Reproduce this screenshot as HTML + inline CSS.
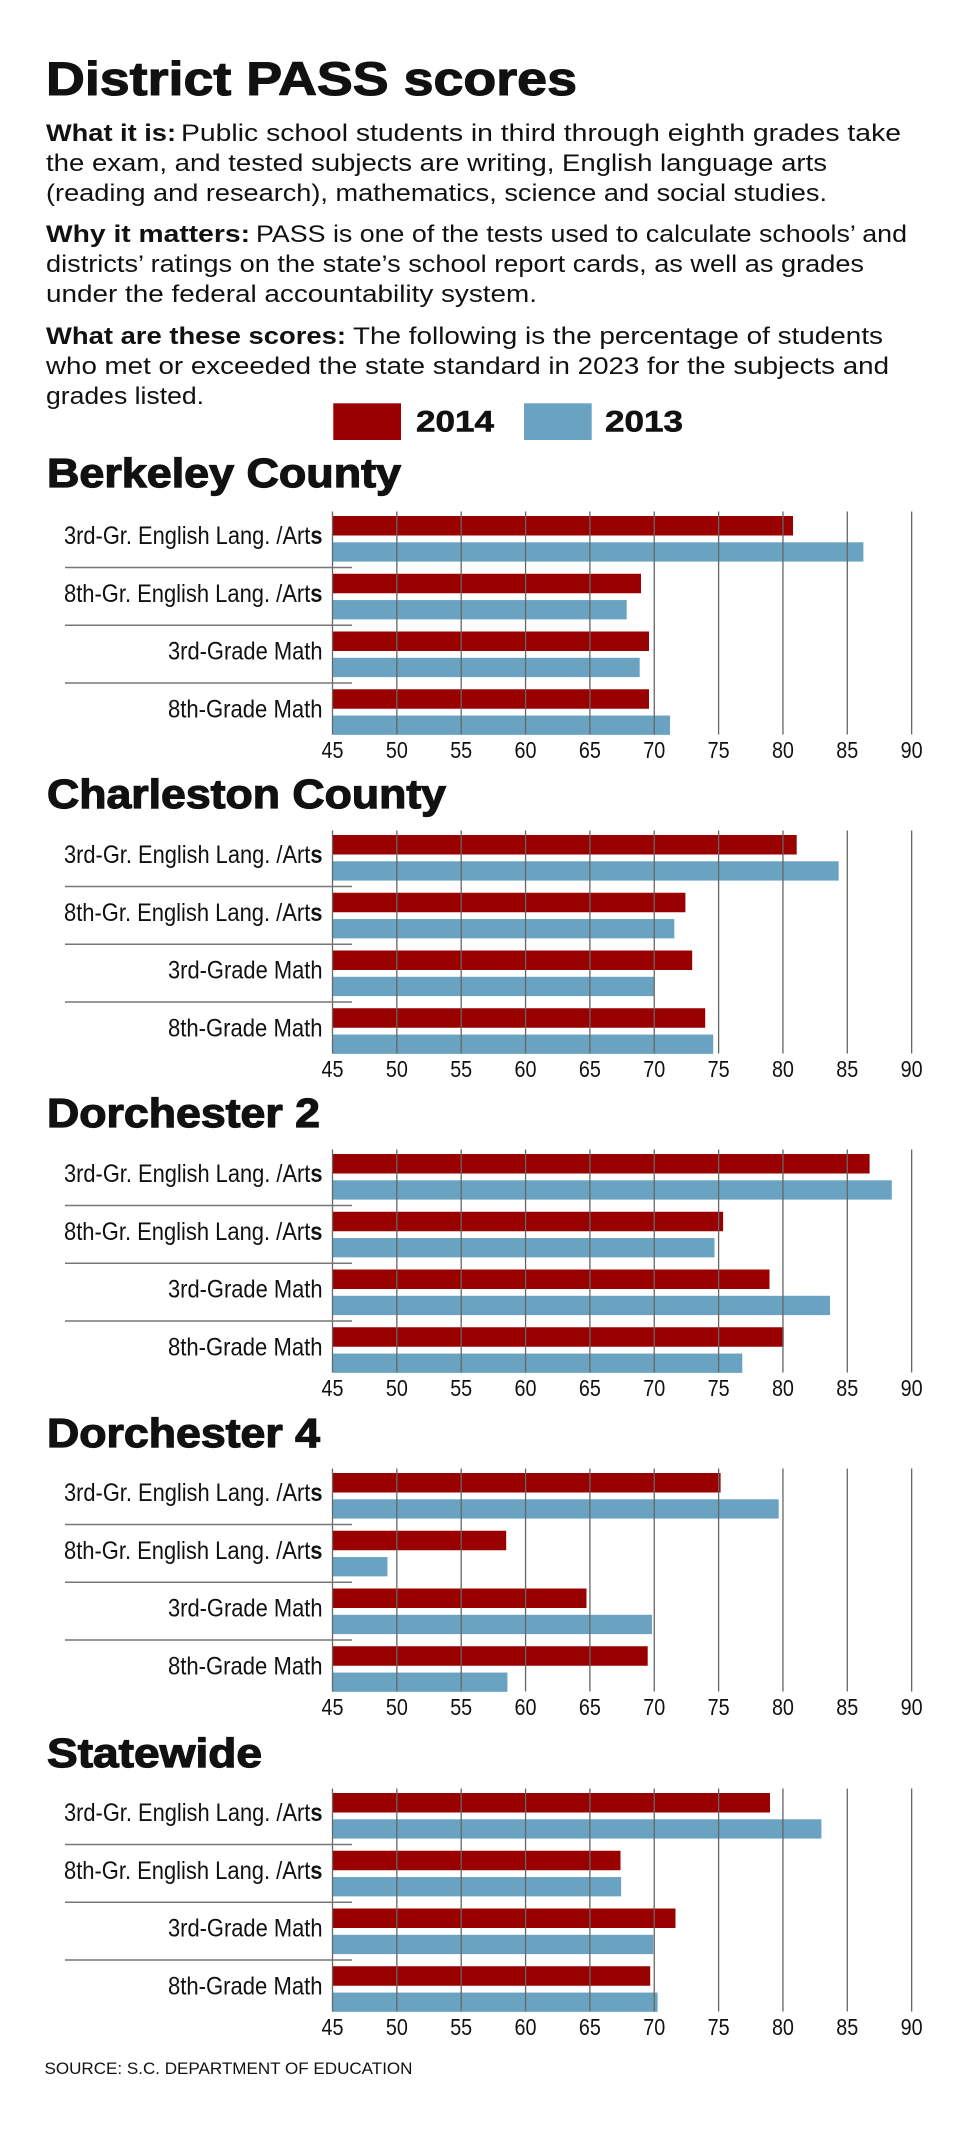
<!DOCTYPE html>
<html><head><meta charset="utf-8"><style>
html,body{margin:0;padding:0;background:#fff;}
svg{display:block;}
text{font-family:"Liberation Sans",sans-serif;fill:#111;}
.b{font-weight:bold;}
.hv{stroke:#111;stroke-width:1.1;paint-order:stroke;}
.body{font-size:24px;}
.ttl{font-size:41px;font-weight:bold;stroke:#111;stroke-width:1.2;}
.lab{font-size:25px;}
.tk{font-size:23px;}
.r{fill:#990000;}
.bl{fill:#69a3c1;}
.gl{stroke:#666;stroke-width:1.3;}
.sp{stroke:#777;stroke-width:1.6;}
</style></head><body>
<svg width="969" height="2138" viewBox="0 0 969 2138" xmlns="http://www.w3.org/2000/svg">
<rect width="969" height="2138" fill="#fff"/>
<text x="46" y="95" font-size="47" class="b hv" textLength="531" lengthAdjust="spacingAndGlyphs">District PASS scores</text>

<text class="body b" x="46" y="141" textLength="130" lengthAdjust="spacingAndGlyphs">What it is:</text>
<text class="body" x="181" y="141" textLength="720" lengthAdjust="spacingAndGlyphs">Public school students in third through eighth grades take</text>
<text class="body" x="46" y="171" textLength="781" lengthAdjust="spacingAndGlyphs">the exam, and tested subjects are writing, English language arts</text>
<text class="body" x="46" y="201" textLength="781" lengthAdjust="spacingAndGlyphs">(reading and research), mathematics, science and social studies.</text>
<text class="body b" x="46" y="242" textLength="204" lengthAdjust="spacingAndGlyphs">Why it matters:</text>
<text class="body" x="256" y="242" textLength="651" lengthAdjust="spacingAndGlyphs">PASS is one of the tests used to calculate schools’ and</text>
<text class="body" x="46" y="272" textLength="818" lengthAdjust="spacingAndGlyphs">districts’ ratings on the state’s school report cards, as well as grades</text>
<text class="body" x="46" y="302" textLength="491" lengthAdjust="spacingAndGlyphs">under the federal accountability system.</text>
<text class="body b" x="46" y="344" textLength="300" lengthAdjust="spacingAndGlyphs">What are these scores:</text>
<text class="body" x="353" y="344" textLength="530" lengthAdjust="spacingAndGlyphs">The following is the percentage of students</text>
<text class="body" x="46" y="374" textLength="843" lengthAdjust="spacingAndGlyphs">who met or exceeded the state standard in 2023 for the subjects and</text>
<text class="body" x="46" y="404" textLength="158" lengthAdjust="spacingAndGlyphs">grades listed.</text>

<rect x="333.3" y="403.3" width="67.7" height="36.7" class="r"/>
<text x="416" y="431.5" font-size="30" class="b" stroke="#111" stroke-width="0.6" textLength="78" lengthAdjust="spacingAndGlyphs">2014</text>
<rect x="524" y="403.3" width="67.7" height="36.7" class="bl"/>
<text x="605" y="431.5" font-size="30" class="b" stroke="#111" stroke-width="0.6" textLength="78" lengthAdjust="spacingAndGlyphs">2013</text>

<!-- Berkeley -->
<text class="ttl" x="47" y="487" textLength="354" lengthAdjust="spacingAndGlyphs">Berkeley County</text>
<g transform="translate(0,516)">
<rect class="r" x="332.5" y="0" width="460.5" height="19.5"/>
<rect class="bl" x="332.5" y="26.3" width="530.9" height="19.3"/>
<rect class="r" x="332.5" y="57.75" width="308.5" height="19.5"/>
<rect class="bl" x="332.5" y="84.05" width="294.2" height="19.3"/>
<rect class="r" x="332.5" y="115.5" width="316.5" height="19.5"/>
<rect class="bl" x="332.5" y="141.8" width="307.2" height="19.3"/>
<rect class="r" x="332.5" y="173.25" width="316.5" height="19.5"/>
<rect class="bl" x="332.5" y="199.55" width="337.5" height="19.3"/>
<g class="gl"><line x1="332.5" y1="-4.5" x2="332.5" y2="218.5"/><line x1="396.85" y1="-4.5" x2="396.85" y2="218.5"/><line x1="461.2" y1="-4.5" x2="461.2" y2="218.5"/><line x1="525.55" y1="-4.5" x2="525.55" y2="218.5"/><line x1="589.9" y1="-4.5" x2="589.9" y2="218.5"/><line x1="654.25" y1="-4.5" x2="654.25" y2="218.5"/><line x1="718.6" y1="-4.5" x2="718.6" y2="218.5"/><line x1="782.95" y1="-4.5" x2="782.95" y2="218.5"/><line x1="847.3" y1="-4.5" x2="847.3" y2="218.5"/><line x1="911.65" y1="-4.5" x2="911.65" y2="218.5"/></g>
<g class="sp"><line x1="65" y1="51.5" x2="352" y2="51.5"/><line x1="65" y1="109.25" x2="352" y2="109.25"/><line x1="65" y1="167" x2="352" y2="167"/></g>
<text class="lab" x="64" y="28" textLength="258.5" lengthAdjust="spacingAndGlyphs">3rd-Gr. English Lang. /Art<tspan class="b">s</tspan></text>
<text class="lab" x="64" y="85.75" textLength="258.5" lengthAdjust="spacingAndGlyphs">8th-Gr. English Lang. /Art<tspan class="b">s</tspan></text>
<text class="lab" x="168" y="143.5" textLength="154.5" lengthAdjust="spacingAndGlyphs">3rd-Grade Math</text>
<text class="lab" x="168" y="201.25" textLength="154.5" lengthAdjust="spacingAndGlyphs">8th-Grade Math</text>
<g class="tk"><text x="321.5" y="242" textLength="22" lengthAdjust="spacingAndGlyphs">45</text><text x="385.85" y="242" textLength="22" lengthAdjust="spacingAndGlyphs">50</text><text x="450.2" y="242" textLength="22" lengthAdjust="spacingAndGlyphs">55</text><text x="514.55" y="242" textLength="22" lengthAdjust="spacingAndGlyphs">60</text><text x="578.9" y="242" textLength="22" lengthAdjust="spacingAndGlyphs">65</text><text x="643.25" y="242" textLength="22" lengthAdjust="spacingAndGlyphs">70</text><text x="707.6" y="242" textLength="22" lengthAdjust="spacingAndGlyphs">75</text><text x="771.95" y="242" textLength="22" lengthAdjust="spacingAndGlyphs">80</text><text x="836.3" y="242" textLength="22" lengthAdjust="spacingAndGlyphs">85</text><text x="900.65" y="242" textLength="22" lengthAdjust="spacingAndGlyphs">90</text></g>
</g>

<!-- Charleston -->
<text class="ttl" x="47" y="808" textLength="399" lengthAdjust="spacingAndGlyphs">Charleston County</text>
<g transform="translate(0,835)">
<rect class="r" x="332.5" y="0" width="464.2" height="19.5"/>
<rect class="bl" x="332.5" y="26.3" width="506.2" height="19.3"/>
<rect class="r" x="332.5" y="57.75" width="352.9" height="19.5"/>
<rect class="bl" x="332.5" y="84.05" width="341.8" height="19.3"/>
<rect class="r" x="332.5" y="115.5" width="359.7" height="19.5"/>
<rect class="bl" x="332.5" y="141.8" width="322" height="19.3"/>
<rect class="r" x="332.5" y="173.25" width="372.7" height="19.5"/>
<rect class="bl" x="332.5" y="199.55" width="380.7" height="19.3"/>
<g class="gl"><line x1="332.5" y1="-4.5" x2="332.5" y2="218.5"/><line x1="396.85" y1="-4.5" x2="396.85" y2="218.5"/><line x1="461.2" y1="-4.5" x2="461.2" y2="218.5"/><line x1="525.55" y1="-4.5" x2="525.55" y2="218.5"/><line x1="589.9" y1="-4.5" x2="589.9" y2="218.5"/><line x1="654.25" y1="-4.5" x2="654.25" y2="218.5"/><line x1="718.6" y1="-4.5" x2="718.6" y2="218.5"/><line x1="782.95" y1="-4.5" x2="782.95" y2="218.5"/><line x1="847.3" y1="-4.5" x2="847.3" y2="218.5"/><line x1="911.65" y1="-4.5" x2="911.65" y2="218.5"/></g>
<g class="sp"><line x1="65" y1="51.5" x2="352" y2="51.5"/><line x1="65" y1="109.25" x2="352" y2="109.25"/><line x1="65" y1="167" x2="352" y2="167"/></g>
<text class="lab" x="64" y="28" textLength="258.5" lengthAdjust="spacingAndGlyphs">3rd-Gr. English Lang. /Art<tspan class="b">s</tspan></text>
<text class="lab" x="64" y="85.75" textLength="258.5" lengthAdjust="spacingAndGlyphs">8th-Gr. English Lang. /Art<tspan class="b">s</tspan></text>
<text class="lab" x="168" y="143.5" textLength="154.5" lengthAdjust="spacingAndGlyphs">3rd-Grade Math</text>
<text class="lab" x="168" y="201.25" textLength="154.5" lengthAdjust="spacingAndGlyphs">8th-Grade Math</text>
<g class="tk"><text x="321.5" y="242" textLength="22" lengthAdjust="spacingAndGlyphs">45</text><text x="385.85" y="242" textLength="22" lengthAdjust="spacingAndGlyphs">50</text><text x="450.2" y="242" textLength="22" lengthAdjust="spacingAndGlyphs">55</text><text x="514.55" y="242" textLength="22" lengthAdjust="spacingAndGlyphs">60</text><text x="578.9" y="242" textLength="22" lengthAdjust="spacingAndGlyphs">65</text><text x="643.25" y="242" textLength="22" lengthAdjust="spacingAndGlyphs">70</text><text x="707.6" y="242" textLength="22" lengthAdjust="spacingAndGlyphs">75</text><text x="771.95" y="242" textLength="22" lengthAdjust="spacingAndGlyphs">80</text><text x="836.3" y="242" textLength="22" lengthAdjust="spacingAndGlyphs">85</text><text x="900.65" y="242" textLength="22" lengthAdjust="spacingAndGlyphs">90</text></g>
</g>

<!-- Dorchester 2 -->
<text class="ttl" x="47" y="1127" textLength="273" lengthAdjust="spacingAndGlyphs">Dorchester 2</text>
<g transform="translate(0,1154)">
<rect class="r" x="332.5" y="0" width="537.1" height="19.5"/>
<rect class="bl" x="332.5" y="26.3" width="559.3" height="19.3"/>
<rect class="r" x="332.5" y="57.75" width="390.6" height="19.5"/>
<rect class="bl" x="332.5" y="84.05" width="382" height="19.3"/>
<rect class="r" x="332.5" y="115.5" width="437" height="19.5"/>
<rect class="bl" x="332.5" y="141.8" width="497.5" height="19.3"/>
<rect class="r" x="332.5" y="173.25" width="451.2" height="19.5"/>
<rect class="bl" x="332.5" y="199.55" width="409.8" height="19.3"/>
<g class="gl"><line x1="332.5" y1="-4.5" x2="332.5" y2="218.5"/><line x1="396.85" y1="-4.5" x2="396.85" y2="218.5"/><line x1="461.2" y1="-4.5" x2="461.2" y2="218.5"/><line x1="525.55" y1="-4.5" x2="525.55" y2="218.5"/><line x1="589.9" y1="-4.5" x2="589.9" y2="218.5"/><line x1="654.25" y1="-4.5" x2="654.25" y2="218.5"/><line x1="718.6" y1="-4.5" x2="718.6" y2="218.5"/><line x1="782.95" y1="-4.5" x2="782.95" y2="218.5"/><line x1="847.3" y1="-4.5" x2="847.3" y2="218.5"/><line x1="911.65" y1="-4.5" x2="911.65" y2="218.5"/></g>
<g class="sp"><line x1="65" y1="51.5" x2="352" y2="51.5"/><line x1="65" y1="109.25" x2="352" y2="109.25"/><line x1="65" y1="167" x2="352" y2="167"/></g>
<text class="lab" x="64" y="28" textLength="258.5" lengthAdjust="spacingAndGlyphs">3rd-Gr. English Lang. /Art<tspan class="b">s</tspan></text>
<text class="lab" x="64" y="85.75" textLength="258.5" lengthAdjust="spacingAndGlyphs">8th-Gr. English Lang. /Art<tspan class="b">s</tspan></text>
<text class="lab" x="168" y="143.5" textLength="154.5" lengthAdjust="spacingAndGlyphs">3rd-Grade Math</text>
<text class="lab" x="168" y="201.25" textLength="154.5" lengthAdjust="spacingAndGlyphs">8th-Grade Math</text>
<g class="tk"><text x="321.5" y="242" textLength="22" lengthAdjust="spacingAndGlyphs">45</text><text x="385.85" y="242" textLength="22" lengthAdjust="spacingAndGlyphs">50</text><text x="450.2" y="242" textLength="22" lengthAdjust="spacingAndGlyphs">55</text><text x="514.55" y="242" textLength="22" lengthAdjust="spacingAndGlyphs">60</text><text x="578.9" y="242" textLength="22" lengthAdjust="spacingAndGlyphs">65</text><text x="643.25" y="242" textLength="22" lengthAdjust="spacingAndGlyphs">70</text><text x="707.6" y="242" textLength="22" lengthAdjust="spacingAndGlyphs">75</text><text x="771.95" y="242" textLength="22" lengthAdjust="spacingAndGlyphs">80</text><text x="836.3" y="242" textLength="22" lengthAdjust="spacingAndGlyphs">85</text><text x="900.65" y="242" textLength="22" lengthAdjust="spacingAndGlyphs">90</text></g>
</g>

<!-- Dorchester 4 -->
<text class="ttl" x="47" y="1447" textLength="273" lengthAdjust="spacingAndGlyphs">Dorchester 4</text>
<g transform="translate(0,1473)">
<rect class="r" x="332.5" y="0" width="388.1" height="19.5"/>
<rect class="bl" x="332.5" y="26.3" width="446.2" height="19.3"/>
<rect class="r" x="332.5" y="57.75" width="173.7" height="19.5"/>
<rect class="bl" x="332.5" y="84.05" width="55" height="19.3"/>
<rect class="r" x="332.5" y="115.5" width="254" height="19.5"/>
<rect class="bl" x="332.5" y="141.8" width="319.5" height="19.3"/>
<rect class="r" x="332.5" y="173.25" width="315.2" height="19.5"/>
<rect class="bl" x="332.5" y="199.55" width="174.9" height="19.3"/>
<g class="gl"><line x1="332.5" y1="-4.5" x2="332.5" y2="218.5"/><line x1="396.85" y1="-4.5" x2="396.85" y2="218.5"/><line x1="461.2" y1="-4.5" x2="461.2" y2="218.5"/><line x1="525.55" y1="-4.5" x2="525.55" y2="218.5"/><line x1="589.9" y1="-4.5" x2="589.9" y2="218.5"/><line x1="654.25" y1="-4.5" x2="654.25" y2="218.5"/><line x1="718.6" y1="-4.5" x2="718.6" y2="218.5"/><line x1="782.95" y1="-4.5" x2="782.95" y2="218.5"/><line x1="847.3" y1="-4.5" x2="847.3" y2="218.5"/><line x1="911.65" y1="-4.5" x2="911.65" y2="218.5"/></g>
<g class="sp"><line x1="65" y1="51.5" x2="352" y2="51.5"/><line x1="65" y1="109.25" x2="352" y2="109.25"/><line x1="65" y1="167" x2="352" y2="167"/></g>
<text class="lab" x="64" y="28" textLength="258.5" lengthAdjust="spacingAndGlyphs">3rd-Gr. English Lang. /Art<tspan class="b">s</tspan></text>
<text class="lab" x="64" y="85.75" textLength="258.5" lengthAdjust="spacingAndGlyphs">8th-Gr. English Lang. /Art<tspan class="b">s</tspan></text>
<text class="lab" x="168" y="143.5" textLength="154.5" lengthAdjust="spacingAndGlyphs">3rd-Grade Math</text>
<text class="lab" x="168" y="201.25" textLength="154.5" lengthAdjust="spacingAndGlyphs">8th-Grade Math</text>
<g class="tk"><text x="321.5" y="242" textLength="22" lengthAdjust="spacingAndGlyphs">45</text><text x="385.85" y="242" textLength="22" lengthAdjust="spacingAndGlyphs">50</text><text x="450.2" y="242" textLength="22" lengthAdjust="spacingAndGlyphs">55</text><text x="514.55" y="242" textLength="22" lengthAdjust="spacingAndGlyphs">60</text><text x="578.9" y="242" textLength="22" lengthAdjust="spacingAndGlyphs">65</text><text x="643.25" y="242" textLength="22" lengthAdjust="spacingAndGlyphs">70</text><text x="707.6" y="242" textLength="22" lengthAdjust="spacingAndGlyphs">75</text><text x="771.95" y="242" textLength="22" lengthAdjust="spacingAndGlyphs">80</text><text x="836.3" y="242" textLength="22" lengthAdjust="spacingAndGlyphs">85</text><text x="900.65" y="242" textLength="22" lengthAdjust="spacingAndGlyphs">90</text></g>
</g>

<!-- Statewide -->
<text class="ttl" x="47" y="1767" textLength="215" lengthAdjust="spacingAndGlyphs">Statewide</text>
<g transform="translate(0,1793)">
<rect class="r" x="332.5" y="0" width="437.5" height="19.5"/>
<rect class="bl" x="332.5" y="26.3" width="488.9" height="19.3"/>
<rect class="r" x="332.5" y="57.75" width="288" height="19.5"/>
<rect class="bl" x="332.5" y="84.05" width="288.6" height="19.3"/>
<rect class="r" x="332.5" y="115.5" width="343" height="19.5"/>
<rect class="bl" x="332.5" y="141.8" width="320.8" height="19.3"/>
<rect class="r" x="332.5" y="173.25" width="317.7" height="19.5"/>
<rect class="bl" x="332.5" y="199.55" width="325.1" height="19.3"/>
<g class="gl"><line x1="332.5" y1="-4.5" x2="332.5" y2="218.5"/><line x1="396.85" y1="-4.5" x2="396.85" y2="218.5"/><line x1="461.2" y1="-4.5" x2="461.2" y2="218.5"/><line x1="525.55" y1="-4.5" x2="525.55" y2="218.5"/><line x1="589.9" y1="-4.5" x2="589.9" y2="218.5"/><line x1="654.25" y1="-4.5" x2="654.25" y2="218.5"/><line x1="718.6" y1="-4.5" x2="718.6" y2="218.5"/><line x1="782.95" y1="-4.5" x2="782.95" y2="218.5"/><line x1="847.3" y1="-4.5" x2="847.3" y2="218.5"/><line x1="911.65" y1="-4.5" x2="911.65" y2="218.5"/></g>
<g class="sp"><line x1="65" y1="51.5" x2="352" y2="51.5"/><line x1="65" y1="109.25" x2="352" y2="109.25"/><line x1="65" y1="167" x2="352" y2="167"/></g>
<text class="lab" x="64" y="28" textLength="258.5" lengthAdjust="spacingAndGlyphs">3rd-Gr. English Lang. /Art<tspan class="b">s</tspan></text>
<text class="lab" x="64" y="85.75" textLength="258.5" lengthAdjust="spacingAndGlyphs">8th-Gr. English Lang. /Art<tspan class="b">s</tspan></text>
<text class="lab" x="168" y="143.5" textLength="154.5" lengthAdjust="spacingAndGlyphs">3rd-Grade Math</text>
<text class="lab" x="168" y="201.25" textLength="154.5" lengthAdjust="spacingAndGlyphs">8th-Grade Math</text>
<g class="tk"><text x="321.5" y="242" textLength="22" lengthAdjust="spacingAndGlyphs">45</text><text x="385.85" y="242" textLength="22" lengthAdjust="spacingAndGlyphs">50</text><text x="450.2" y="242" textLength="22" lengthAdjust="spacingAndGlyphs">55</text><text x="514.55" y="242" textLength="22" lengthAdjust="spacingAndGlyphs">60</text><text x="578.9" y="242" textLength="22" lengthAdjust="spacingAndGlyphs">65</text><text x="643.25" y="242" textLength="22" lengthAdjust="spacingAndGlyphs">70</text><text x="707.6" y="242" textLength="22" lengthAdjust="spacingAndGlyphs">75</text><text x="771.95" y="242" textLength="22" lengthAdjust="spacingAndGlyphs">80</text><text x="836.3" y="242" textLength="22" lengthAdjust="spacingAndGlyphs">85</text><text x="900.65" y="242" textLength="22" lengthAdjust="spacingAndGlyphs">90</text></g>
</g>

<text x="44.5" y="2074" font-size="17" textLength="368" lengthAdjust="spacingAndGlyphs">SOURCE: S.C. DEPARTMENT OF EDUCATION</text>
</svg>
</body></html>
